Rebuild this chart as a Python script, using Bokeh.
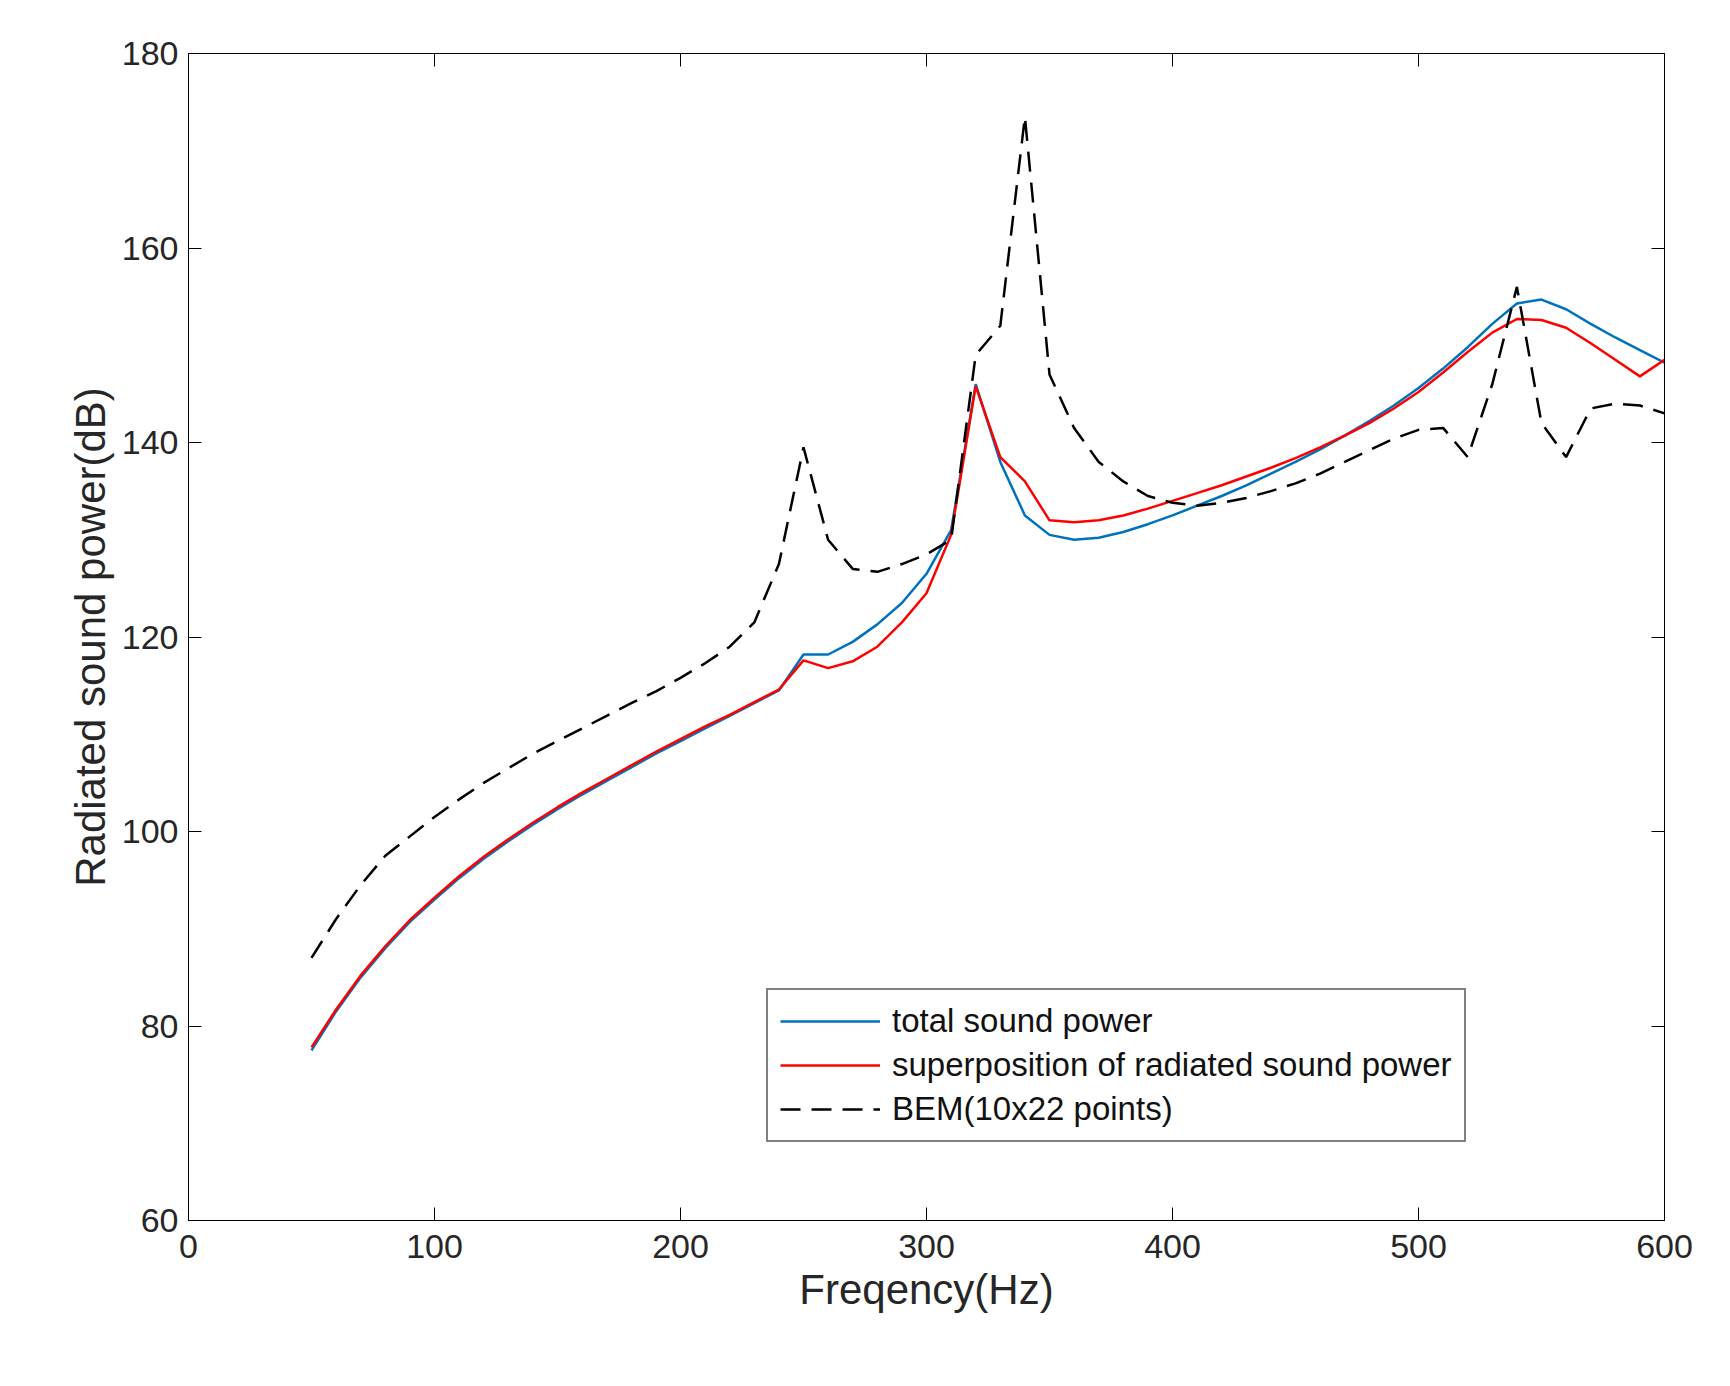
from bokeh.plotting import figure
from bokeh.models import LinearAxis, Legend, LegendItem, FixedTicker, Range1d
from bokeh.embed import file_html
from bokeh.resources import INLINE

freq = list(range(50, 601, 10))
total = [77.5,81.5,85,88,90.7,93,95.2,97.2,99,100.7,102.3,103.8,105.2,106.6,108,109.3,110.6,111.9,113.2,114.5,
         118.2,118.2,119.5,121.3,123.5,126.5,131,146,138,132.5,130.5,130,130.2,130.8,131.6,132.5,133.5,134.5,135.6,136.8,
         138,139.3,140.7,142.2,143.8,145.6,147.6,149.8,152.2,154.3,154.7,153.7,152.2,150.8,149.5,148.2]
superp = [77.8,81.7,85.2,88.2,90.9,93.2,95.4,97.4,99.2,100.9,102.5,104,105.4,106.8,108.2,109.5,110.8,112,113.3,114.6,
          117.6,116.8,117.5,119,121.5,124.5,130.5,145.8,138.5,136,132,131.8,132,132.5,133.2,134,134.8,135.6,136.5,137.4,
          138.4,139.5,140.7,142,143.5,145.2,147.2,149.3,151.3,152.7,152.6,151.8,150.2,148.5,146.8,148.5]
bem = [87,91,94.5,97.5,99.5,101.5,103.3,105,106.5,108,109.3,110.6,111.9,113.2,114.4,115.8,117.3,119,121.5,127.5,
       139.5,130,127,126.7,127.5,128.5,130,149,152,173.5,147,141.5,138,136,134.5,133.8,133.5,133.8,134.3,135,
       135.8,136.8,138,139.2,140.4,141.3,141.5,138.5,146,156,142,138.5,143.5,144,143.8,143]
xticks = list(range(0, 601, 100))
yticks = list(range(60, 181, 20))

p = figure(width=1714, height=1370, output_backend="svg", toolbar_location=None,
           x_range=Range1d(0, 600), y_range=Range1d(60, 180),
           min_border_left=188, min_border_right=50, min_border_top=53, min_border_bottom=150)
p.grid.visible = False
p.outline_line_color = "black"

r1 = p.line(freq, total, line_color="#0072BD", line_width=2.5)
r2 = p.line(freq, superp, line_color="#FF0000", line_width=2.5)
r3 = p.line(freq, bem, line_color="black", line_width=2.5, line_dash="20 11")

xt = FixedTicker(ticks=xticks)
yt = FixedTicker(ticks=yticks)
bx = p.below[0]
ly = p.left[0]
bx.ticker = xt
ly.ticker = yt
top = LinearAxis(ticker=xt, major_label_overrides={t: "" for t in xticks})
right = LinearAxis(ticker=yt, major_label_overrides={t: "" for t in yticks})
p.add_layout(top, "above")
p.add_layout(right, "right")
for ax in (bx, ly, top, right):
    ax.major_tick_in = 13
    ax.major_tick_out = 0
    ax.minor_tick_line_color = None
    ax.axis_line_color = "black"
    ax.major_tick_line_color = "black"
    ax.major_label_text_font = "Liberation Sans"
    ax.major_label_text_color = "#262626"
for ax in (top, right):
    ax.major_label_standoff = 0
bx.major_label_text_font_size = "34px"
ly.major_label_text_font_size = "34px"
bx.major_label_standoff = 14
ly.major_label_standoff = 10
bx.axis_label = "Freqency(Hz)"
ly.axis_label = "Radiated sound power(dB)"
for ax in (bx, ly):
    ax.axis_label_text_font = "Liberation Sans"
    ax.axis_label_text_font_style = "normal"
    ax.axis_label_text_font_size = "42px"
    ax.axis_label_text_color = "#262626"

legend = Legend(items=[LegendItem(label="total sound power", renderers=[r1]),
                       LegendItem(label="superposition of radiated sound power", renderers=[r2]),
                       LegendItem(label="BEM(10x22 points)", renderers=[r3])],
                location=(578, 78), label_text_font="Liberation Sans", label_text_font_size="33px",
                glyph_width=100, label_standoff=12, spacing=6, padding=12,
                border_line_color="black", border_line_width=2, label_text_color="#111111")
p.add_layout(legend)

open("out.html", "w").write(file_html(p, INLINE))
